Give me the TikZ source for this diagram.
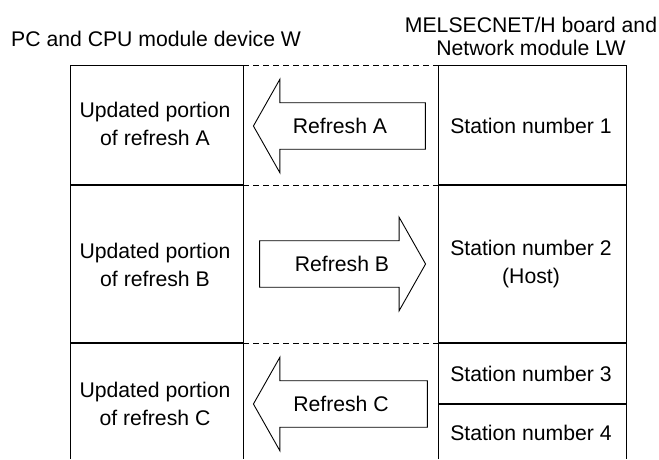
\documentclass[tikz,border=0pt]{standalone}
\usepackage{fontspec}
\setmainfont{Liberation Sans}
\usepackage{tikz}
\usetikzlibrary{shapes.arrows}
\newcommand{\cellfont}{\fontsize{21.2}{27.5}\selectfont}
\newcommand{\headfont}{\fontsize{21.2}{23}\selectfont}

\begin{document}
\begin{tikzpicture}[x=1pt, y=-1pt,
    cell/.style={align=center, font=\cellfont, inner sep=0pt},
    refresh/.style={single arrow, draw, line width=0.9pt, font=\cellfont,
      single arrow head extend=23.5pt, single arrow tip angle=121,
      inner xsep=0pt, inner ysep=15pt},
    divider/.style={line width=1.5pt},
    frame/.style={line width=0.9pt},
    gap/.style={dashed, line width=0.8pt, dash pattern=on 6pt off 4pt}]
    \useasboundingbox (0,0) rectangle (659,459);

    % column corners
    \coordinate (pcTop) at (70,65);   \coordinate (pcTopR) at (243,65);
    \coordinate (pcMidA) at (70,185); \coordinate (pcMidAR) at (243,185);
    \coordinate (pcMidB) at (70,343); \coordinate (pcMidBR) at (243,343);
    \coordinate (nwTop) at (438,65);  \coordinate (nwTopR) at (626,65);
    \coordinate (nwMidA) at (438,185);\coordinate (nwMidAR) at (626,185);
    \coordinate (nwMidB) at (438,343);\coordinate (nwMidBR) at (626,343);
    \coordinate (nwMidC) at (438,404);\coordinate (nwMidCR) at (626,404);

    \draw[frame] (70,459) -- (pcTop) -- (pcTopR) -- (243,459);
    \draw[frame] (438,459) -- (nwTop) -- (nwTopR) -- (626,459);
    \draw[divider] (pcMidA) -- (pcMidAR);
    \draw[divider] (pcMidB) -- (pcMidBR);
    \draw[divider] (nwMidA) -- (nwMidAR);
    \draw[divider] (nwMidB) -- (nwMidBR);
    \draw[divider] (nwMidC) -- (nwMidCR);

    \draw[gap] (pcTopR) -- (nwTop);
    \draw[gap] (pcMidAR) -- (nwMidA);
    \draw[gap] (pcMidBR) -- (nwMidB);

    \node[font=\cellfont, anchor=base west, inner sep=0pt] (pcHead) at (11,46)
      {PC and CPU module device W};
    \node[align=center, font=\headfont, inner sep=0pt] (nwHead) at (531,36)
      {MELSECNET/H board and\\Network module LW};

    \node[cell] (updA) at (155,124) {Updated portion\\of refresh A};
    \node[cell] (updB) at (155,265) {Updated portion\\of refresh B};
    \node[cell] (updC) at (155,404) {Updated portion\\of refresh C};

    \node[cell] (stOne) at (531,126) {Station number 1};
    \node[cell] (stTwo) at (531,264) {Station number 2\\(Host)};
    \node[cell] (stThree) at (531,374) {Station number 3};
    \node[cell] (stFour) at (531,433) {Station number 4};

    % arrow shape sits off the text centre, so pad the text
    \node[refresh, minimum height=172pt, shape border rotate=180] (refA)
      at (346,126) {Refresh A\hspace*{12pt}};
    \node[refresh, minimum height=166pt] (refB)
      at (336,264) {\hspace*{12pt}Refresh B};
    \node[refresh, minimum height=174pt, shape border rotate=180] (refC)
      at (347,404) {Refresh C\hspace*{12pt}};
\end{tikzpicture}
\end{document}
